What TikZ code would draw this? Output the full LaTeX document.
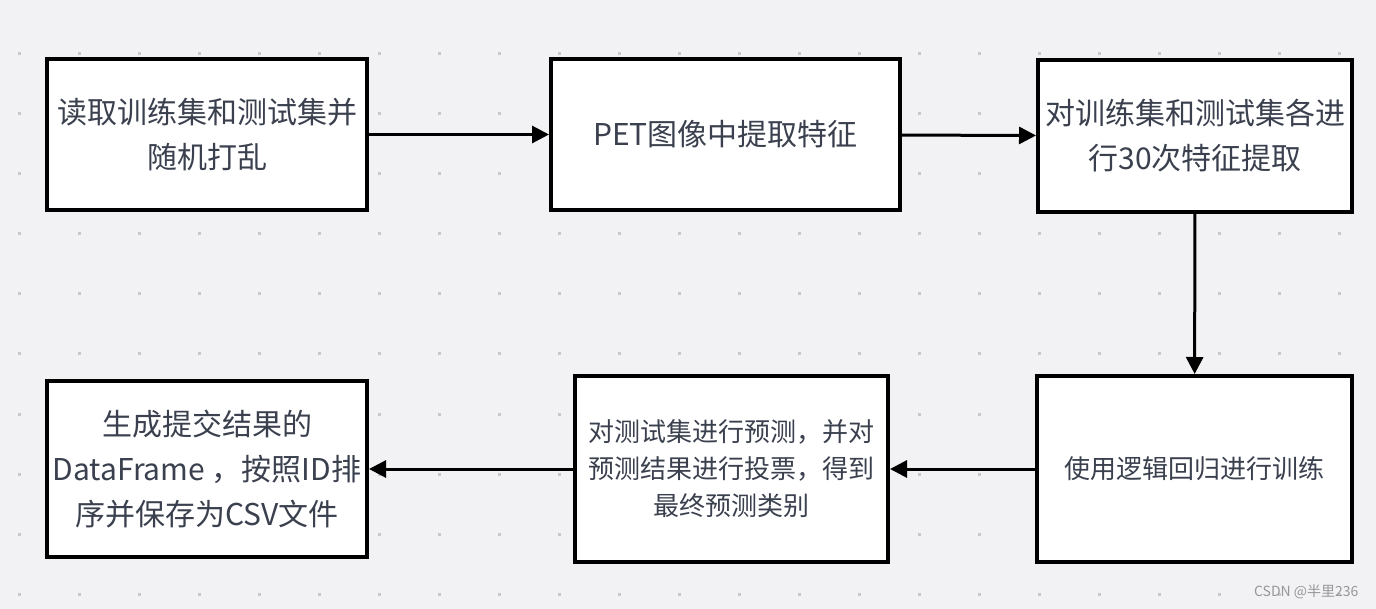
\documentclass[tikz,border=0pt]{standalone}
\usepackage{fontspec}
\setmainfont{Noto Sans CJK SC}
\usetikzlibrary{arrows.meta}

\definecolor{canvas}{RGB}{242,242,244}
\definecolor{griddot}{RGB}{200,200,204}
\definecolor{txt}{RGB}{58,64,78}
\definecolor{mark}{RGB}{150,150,155}

\tikzset{
  stepbox/.style={draw=black, line width=4pt, fill=white, inner sep=0pt,
    align=center, text=txt, font=\fontsize{30}{45}\selectfont},
  flow/.style={line width=3pt, -{Triangle[length=17pt,width=17pt]}}
}

\begin{document}
\begin{tikzpicture}[x=1pt,y=-1pt]
        % canvas
        \fill[canvas] (0,0) rectangle (1376,609);
        \useasboundingbox (0,0) rectangle (1376,609);

        % dotted grid
        \foreach \x in {19,79,...,1339}{
            \foreach \y in {54,114,...,594}{
                \fill[griddot] (\x-1.5,\y-1.5) rectangle (\x+1.5,\y+1.5);
            }
        }

        % top row
        \node[stepbox, minimum width=320pt, minimum height=151pt] (read) at (207,134.5)
            {读取训练集和测试集并\\随机打乱};
        \node[stepbox, minimum width=349pt, minimum height=151pt] (extract) at (725.5,134.5)
            {PET图像中提取特征};
        \node[stepbox, minimum width=314pt, minimum height=152pt] (repeat) at (1195,136)
            {对训练集和测试集各进\\行30次特征提取};

        % bottom row
        \node[stepbox, minimum width=315pt, minimum height=186pt,
              font=\fontsize{26}{37}\selectfont] (train) at (1194.5,469)
            {使用逻辑回归进行训练};
        \node[stepbox, minimum width=313pt, minimum height=186pt,
              font=\fontsize{26}{37}\selectfont] (predict) at (731.5,469)
            {对测试集进行预测，并对\\预测结果进行投票，得到\\最终预测类别};
        \node[stepbox, minimum width=320pt, minimum height=176pt] (submit) at (207,469)
            {生成提交结果的\\DataFrame ，按照ID排\\序并保存为CSV文件};

        % connectors
        \draw[flow] (read) -- (extract);
        \draw[flow] (extract) -- (repeat);
        \draw[flow] (repeat) -- (train);
        \draw[flow] (train) -- (predict);
        \draw[flow] (predict) -- (submit);

        % watermark
        \node[anchor=east, text=mark, font=\fontsize{14}{16}\selectfont] (wm) at (1362,592)
            {CSDN @半里236};
\end{tikzpicture}
\end{document}
